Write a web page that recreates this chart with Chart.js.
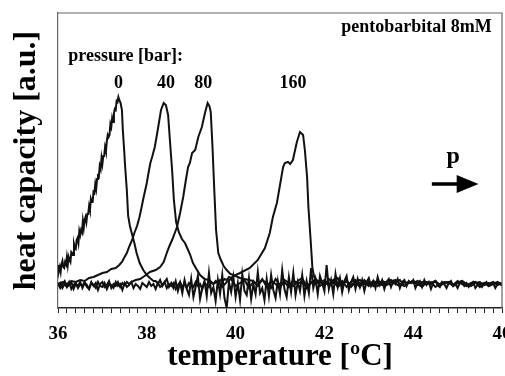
<!DOCTYPE html>
<html>
<head>
<meta charset="utf-8">
<script src="https://cdn.jsdelivr.net/npm/chart.js@4.4.1/dist/chart.umd.min.js"></script>
<style>
  html, body { margin: 0; padding: 0; background: #fff; }
  canvas { display: block; }
</style>
</head>
<body>
<canvas id="dsc" width="505" height="376"></canvas>
<script>
// Heat capacity profiles of lipid membranes with pentobarbital 8 mM at four pressures.
const pressures = [0, 40, 80, 160];           // bar
const sampleLabel = 'pentobarbital 8mM';
const pressureTitle = 'pressure [bar]:';
const xTickLabels = [36, 38, 40, 42, 44, 46];

// ---- 0 bar ----
const rise0Start = 36.00, rise0Step = 0.02;
const rise0 = [2.0, 1.4, 1.8, 1.3, 2.1, 2.4, 1.8, 1.7, 2.3, 2.1,
               2.8, 2.0, 2.8, 2.5, 2.3, 3.3, 3.2, 3.0, 4.1, 3.7,
               3.6, 4.5, 4.7, 4.2, 5.4, 5.0, 5.5, 5.3, 6.4, 5.7,
               6.5, 6.8, 6.3, 7.1, 7.1, 7.9, 7.5, 8.6, 8.3, 8.3,
               9.3, 9.2, 10.1, 9.6, 10.6, 10.9, 10.8, 11.9, 11.6, 12.7,
               12.1, 12.9, 12.9, 13.8, 13.4, 14.4, 15.0, 14.8, 15.0, 16.1,
               15.8, 16.7, 16.3, 17.2, 17.6, 17.5, 18.4, 18.3, 18.8];
const fall0T = [37.38, 37.41, 37.44, 37.46, 37.49, 37.51, 37.55, 37.58, 37.62, 37.66, 37.72, 37.77, 37.84, 37.92, 38.00, 38.07, 38.15];
const fall0V = [18.5, 18.2, 17.5, 15.5, 13.5, 12.0, 9.5, 6.9, 5.9, 5.2, 4.2, 3.2, 2.2, 1.5, 1.0, 0.7, 0.4];
const tail0Start = 38.20, tail0Step = 0.05;
const tail0 = [0.4, 0.1, 0.5, -0.1, 0.3, 0.6, -0.2, 0.2,
               -0.3, 0.4, -0.6, 0.2, -0.8, 0.5, -0.4, -1.0,
               0.6, -1.2, -0.2, 0.9, -1.4, -0.3, 0.4, -1.1, 1.2, -0.8,
               -0.2, -1.6, 0.5, -0.9, 1.0, -1.3, -2.3, 0.3, -0.7, 0.8,
               -1.2, 0.2, -1.5, 1.1, -0.6, -1.0, 0.7, -1.4, 0.1, -0.9,
               1.3, -0.8, -0.3, -1.5, 0.6, -1.1, 1.0, -0.5, -1.3, 0.4,
               -0.9, 1.5, -0.4, -1.2, 0.8, -0.7, 1.2, -1.0, 0.3, -0.6,
               1.0, -1.1, 0.4, -0.8, 1.7, -0.3, 0.6, -0.9, 0.9, 0.2,
               -0.6, 2.0, -0.4, 0.5, -0.9, 1.1, -0.2, 0.7, -0.7, 0.4,
               0.9, -0.5, 0.3, 0.8, -0.4, 0.6, -0.2, 0.5, -0.6, 0.3,
               0.7, -0.1, 0.4, -0.3, 0.8, 0.0, 0.5, -0.4, 0.3, 0.6,
               -0.2, 0.4, 0.1, 0.6, -0.3, 0.3, 0.5, -0.1, 0.4, 0.2,
               0.5, -0.3, 0.2, 0.4, -0.2, 0.5, 0.0, 0.3, -0.4, 0.2,
               0.4, 0.0, -0.2, 0.3, 0.1, -0.3, 0.2, 0.4, -0.1, 0.1,
               -0.3, 0.2, 0.3, -0.1, 0.2, -0.2, 0.1, 0.3, -0.3, 0.0,
               0.2, -0.2, 0.1, 0.3, -0.1, 0.0, 0.2, -0.3, 0.1, 0.2,
               -0.1];

// ---- 40 bar ----
const peak40T = [36.00, 36.10, 36.20, 36.30, 36.40, 36.50, 36.60, 36.70, 36.80, 36.90, 37.00, 37.10, 37.20, 37.30,
                 37.38, 37.44, 37.50, 37.55, 37.61, 37.67, 37.72, 37.78, 37.83, 37.87,
                 37.92, 37.96, 38.00, 38.03, 38.08, 38.12, 38.18, 38.25, 38.32, 38.38,
                 38.43, 38.48, 38.52, 38.57, 38.61, 38.66, 38.72, 38.79, 38.86, 38.92,
                 38.97, 39.04, 39.13, 39.20, 39.30];
const peak40V = [0.1, 0.3, 0.1, 0.4, 0.3, 0.5, 0.4, 0.7, 0.8, 1.0, 1.2, 1.3, 1.6, 1.7,
                 2.0, 2.3, 2.8, 3.2, 3.9, 4.5, 5.2, 5.9, 6.7, 7.5,
                 8.6, 9.4, 10.2, 11.0, 12.2, 12.8, 13.8, 15.6, 17.5, 18.2,
                 18.0, 17.0, 14.5, 11.5, 8.5, 6.3, 5.3, 4.6, 4.2, 3.6,
                 3.1, 2.2, 1.5, 1.0, 0.6];
const tail40Start = 39.40, tail40Step = 0.1;
const tail40 = [0.5, 0.1, 0.4, -0.2, 0.3, 0.6, -0.1, 0.2, 0.5, -0.3,
                0.3, 0.0, 0.6, -0.2, 0.4, 0.1, -0.3, 0.5, 0.2, -0.1,
                0.4, 0.7, -0.2, 0.3, 0.1, 0.5, -0.1, 0.6, 0.2, 0.0,
                0.4, -0.2, 0.3, 0.5, 0.1, 0.3, -0.1, 0.4, 0.2, 0.0,
                0.3, 0.5, 0.1, -0.1, 0.3, 0.2, 0.4, 0.0, 0.3, 0.1,
                0.2, 0.4, -0.1, 0.2, 0.3, 0.0, 0.2, 0.4, 0.1, -0.1,
                0.2, 0.3, 0.0, 0.2, 0.1, 0.3, 0.0];

// ---- 80 bar ----
const base80Start = 36.00, base80Step = 0.05;
const base80 = [0.2, -0.3, 0.1, 0.4, -0.2, 0.0, 0.3, -0.4, 0.1, -0.1,
                0.3, -0.3, 0.2, 0.0, -0.4, 0.3, -0.1, 0.2, -0.5, 0.1,
                0.3, -0.2, 0.0, 0.4, -0.3, 0.1, -0.1, 0.3, -0.2, 0.2,
                0.0, 0.3, 0.1];
const peak80T = [37.65, 37.75, 37.85, 37.95, 38.07, 38.20, 38.30, 38.38, 38.45, 38.51,
                 38.57, 38.63, 38.68, 38.75, 38.82, 38.88, 38.93, 38.97, 39.02, 39.09,
                 39.16, 39.24, 39.31, 39.37, 39.41, 39.44, 39.48, 39.52, 39.56, 39.61,
                 39.66, 39.73, 39.80, 39.88, 39.95, 40.10, 40.30];
const peak80V = [0.3, 0.5, 0.6, 0.9, 1.3, 1.5, 1.8, 2.3, 3.2, 3.9,
                 4.5, 5.2, 5.8, 7.2, 8.8, 10.5, 11.8, 12.2, 13.2, 13.5,
                 14.8, 15.8, 17.2, 18.2, 17.9, 17.3, 13.8, 9.5, 5.5, 3.2,
                 2.6, 1.9, 1.5, 1.1, 1.0, 0.7, 0.5];
const tail80Start = 40.40, tail80Step = 0.1;
const tail80 = [0.4, -0.1, 0.5, 0.2, -0.3, 0.6, 0.0, 0.3, -0.2, 0.5,
                0.1, 0.4, -0.3, 0.2, 0.6, -0.1, 0.3, 0.0, 0.5, -0.2,
                0.2, 0.4, 0.0, 0.3, -0.2, 0.5, 0.1, 0.3, -0.1, 0.4,
                0.2, 0.0, 0.3, 0.5, -0.1, 0.2, 0.4, 0.1, -0.2, 0.3,
                0.1, 0.4, 0.0, 0.2, 0.3, -0.1, 0.2, 0.4, 0.0, 0.1,
                0.3, -0.2, 0.2, 0.1, 0.3, 0.0, 0.2];

// ---- 160 bar ----
const base160Start = 36.00, base160Step = 0.05;
const base160 = [-0.1, 0.2, -0.3, 0.1, -0.2, 0.3, -0.4, 0.0, 0.2, -0.3,
                 0.1, -0.1, 0.3, -0.2, -0.4, 0.2, 0.0, -0.3, 0.3, -0.1,
                 -0.2, 0.2, -0.4, 0.1, 0.0, -0.3, 0.3, -0.1, 0.1, -0.5,
                 0.2, -0.2, 0.0, 0.3, -0.3, 0.1, -0.1, -0.4, 0.2, 0.0,
                 -0.2, 0.3, -0.1, 0.1, -0.4, 0.2, -0.2, 0.0, 0.3, -0.3,
                 0.1, -0.1, 0.2, -0.4, 0.0, 0.3, -0.2, 0.1, -0.3, 0.2,
                 0.0, -0.2, 0.3, -0.1, 0.1, -0.4, 0.2, 0.0, -0.2, 0.3,
                 0.1, 0.4, 0.2, 0.5, 0.3, 0.6, 0.5, 0.8, 0.7, 0.9,
                 1.0];
const peak160T = [40.10, 40.32, 40.50, 40.66, 40.77, 40.84, 40.93, 41.00, 41.07, 41.11,
                  41.18, 41.23, 41.29, 41.34, 41.38, 41.45, 41.52, 41.56, 41.61, 41.64,
                  41.69, 41.73, 41.77];
const peak160V = [1.2, 1.7, 2.5, 3.7, 5.2, 6.8, 8.2, 10.0, 11.8, 12.2,
                  12.3, 12.1, 12.5, 13.5, 14.3, 15.3, 15.0, 13.5, 10.8, 7.8,
                  4.5, 1.7, 0.8];
const tail160Start = 41.80, tail160Step = 0.1;
const tail160 = [0.6, 0.2, 0.5, -0.1, 0.3, 0.7, 0.0, 0.4, -0.2, 0.3,
                 0.5, 0.1, 0.3, -0.1, 0.4, 0.2, 0.0, 0.3, 0.5, 0.1,
                 -0.1, 0.3, 0.2, 0.4, 0.0, 0.2, 0.3, -0.2, 0.1, 0.3,
                 0.2, 0.0, 0.4, 0.1, -0.1, 0.2, 0.3, 0.0, 0.2, -0.1,
                 0.1, 0.2, 0.0];

// ---- helpers to turn the recorded segments into {x, y} points ----
function sampled(start, step, values) {
  return values.map((v, i) => ({ x: +(start + i * step).toFixed(3), y: v }));
}
function paired(temps, values) {
  return temps.map((t, i) => ({ x: t, y: values[i] }));
}

const traces = [
  [...sampled(rise0Start, rise0Step, rise0), ...paired(fall0T, fall0V), ...sampled(tail0Start, tail0Step, tail0)],
  [...paired(peak40T, peak40V), ...sampled(tail40Start, tail40Step, tail40)],
  [...sampled(base80Start, base80Step, base80), ...paired(peak80T, peak80V), ...sampled(tail80Start, tail80Step, tail80)],
  [...sampled(base160Start, base160Step, base160), ...paired(peak160T, peak160V), ...sampled(tail160Start, tail160Step, tail160)]
];

const SERIF = '"Liberation Serif", "Times New Roman", serif';

// Frame, pressure labels and the pressure arrow
const decorations = {
  id: 'decorations',
  afterDatasetsDraw(chart) {
    const { ctx, chartArea: a, scales: { x, y } } = chart;
    ctx.save();
    ctx.strokeStyle = '#666';
    ctx.lineWidth = 1.2;
    ctx.beginPath();
    ctx.moveTo(a.left, a.top);
    ctx.lineTo(a.right, a.top);
    ctx.lineTo(a.right, a.bottom);
    ctx.stroke();

    ctx.fillStyle = '#000';
    ctx.textBaseline = 'alphabetic';
    ctx.font = 'bold 18px ' + SERIF;
    ctx.textAlign = 'right';
    ctx.fillText(sampleLabel, x.getPixelForValue(45.77), y.getPixelForValue(25.3));
    ctx.textAlign = 'left';
    ctx.fillText(pressureTitle, x.getPixelForValue(36.23), y.getPixelForValue(22.4));

    const labelT = [37.36, 38.43, 39.27, 41.29];
    ctx.textAlign = 'center';
    pressures.forEach((p, i) => {
      ctx.fillText(String(p), x.getPixelForValue(labelT[i]), y.getPixelForValue(19.7));
    });

    ctx.font = 'bold 24px ' + SERIF;
    ctx.fillText('p', x.getPixelForValue(44.9), y.getPixelForValue(12.2));

    const ay = y.getPixelForValue(10.1);
    const x0 = x.getPixelForValue(44.42), x1 = x.getPixelForValue(44.98), x2 = x.getPixelForValue(45.47);
    const hh = Math.abs(y.getPixelForValue(0.9) - y.getPixelForValue(0));
    ctx.strokeStyle = '#000';
    ctx.lineWidth = 3.5;
    ctx.beginPath();
    ctx.moveTo(x0, ay);
    ctx.lineTo(x1 + 1, ay);
    ctx.stroke();
    ctx.beginPath();
    ctx.moveTo(x1, ay - hh);
    ctx.lineTo(x2, ay);
    ctx.lineTo(x1, ay + hh);
    ctx.closePath();
    ctx.fill();
    ctx.restore();
  }
};

new Chart(document.getElementById('dsc'), {
  type: 'line',
  data: {
    datasets: traces.map((pts, i) => ({
      label: pressures[i] + ' bar',
      data: pts,
      borderColor: '#111',
      borderWidth: 2,
      pointRadius: 0,
      tension: 0,
      fill: false
    }))
  },
  options: {
    responsive: false,
    animation: false,
    devicePixelRatio: 1,
    layout: { padding: { top: 13, right: 3, left: 0, bottom: 0 } },
    plugins: { legend: { display: false }, tooltip: { enabled: false } },
    scales: {
      x: {
        type: 'linear',
        min: 36,
        max: 46,
        border: { color: '#222', width: 1.5 },
        grid: { drawOnChartArea: false, drawTicks: true, tickLength: 5, color: '#222', lineWidth: 1 },
        ticks: {
          stepSize: 0.2,
          autoSkip: false,
          maxRotation: 0,
          maxTicksLimit: 100,
          padding: 10,
          color: '#000',
          font: { family: SERIF, size: 19, weight: 'bold' },
          callback: (v) => {
            const r = Math.round(v);
            return Math.abs(v - r) < 1e-6 && xTickLabels.includes(r) ? String(r) : '';
          }
        },
        title: {
          display: true,
          text: 'temperature [ºC]',
          color: '#000',
          font: { family: SERIF, size: 31, weight: 'bold' },
          padding: { top: 0, bottom: 0 }
        },
        afterFit: (s) => { s.height = 68; s.paddingLeft = 0; s.paddingRight = 0; }
      },
      y: {
        type: 'linear',
        min: -2.3,
        max: 27.2,
        border: { color: '#666', width: 1.2 },
        grid: { display: false },
        ticks: { display: false },
        title: {
          display: true,
          text: 'heat capacity [a.u.]',
          color: '#000',
          font: { family: SERIF, size: 32, weight: 'bold' },
          padding: { top: 8, bottom: 0 }
        },
        afterFit: (s) => { s.width = 58; s.paddingTop = 0; s.paddingBottom = 0; }
      }
    }
  },
  plugins: [decorations]
});
</script>
</body>
</html>
